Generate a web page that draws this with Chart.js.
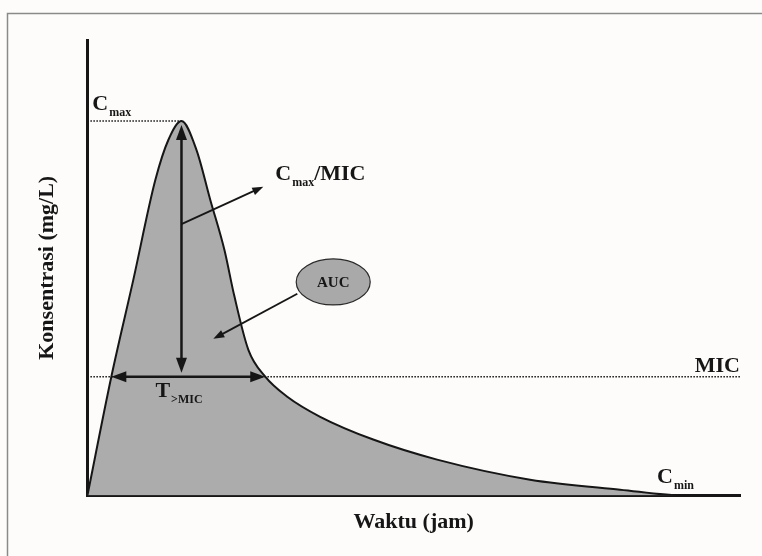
<!DOCTYPE html>
<html>
<head>
<meta charset="utf-8">
<script src="https://cdn.jsdelivr.net/npm/chart.js@4.4.1/dist/chart.umd.min.js"></script>
<style>
html, body { margin: 0; padding: 0; background: #fdfcfa; }
#wrap { width: 762px; height: 556px; position: relative; }
</style>
</head>
<body>
<div id="wrap"><canvas id="pkChart"></canvas></div>
<script>
// Time (jam) and concentration (arbitrary units)
const timeValues = [0, 0.88, 1.69, 2.50, 2.98, 3.46, 4.01, 4.52, 5.04, 5.40, 5.92, 6.54, 7.35, 8.56, 10.51, 12.86, 16.28, 19.59, 22.0, 24];
const concValues = [0, 26.1, 47.4, 69.3, 78.1, 82.2, 75.9, 64.9, 53.9, 43.9, 32.0, 26.1, 21.7, 17.3, 12.3, 7.9, 3.5, 1.3, 0, 0];

const cmaxTime = 3.46;
const cmaxValue = 82.2;
const micValue = 26.1;
const micStartTime = 0.88;
const micEndTime = 6.54;

// pointer arrows: [fromTime, fromConc, toTime, toConc]
const ratioArrow = [3.46, 59.6, 6.47, 67.8];
const aucArrow = [7.72, 44.3, 4.63, 34.4];
const aucBubble = [9.04, 46.9];

// label anchors: [text, sub, rest, time, conc, align]
const labelList = [
	['C', 'max', '', 0.18, 84.6, 'left'],
	['C', 'max', '/MIC', 6.91, 69.3, 'left'],
	['MIC', '', '', 24, 27.2, 'right'],
	['T', '>MIC', '', 2.50, 21.7, 'left'],
	['C', 'min', '', 20.95, 2.85, 'left'],
];

const ink = '#161616';
const fillGray = '#acacac';
const serif = "'Liberation Serif', 'Times New Roman', serif";

const points = timeValues.map(function(t, i) {
	return { x: t, y: concValues[i] };
});

function arrowHead(ctx, x1, y1, x2, y2, len, wid) {
	const a = Math.atan2(y2 - y1, x2 - x1);
	ctx.beginPath();
	ctx.moveTo(x2, y2);
	ctx.lineTo(x2 - len * Math.cos(a) + wid / 2 * Math.sin(a), y2 - len * Math.sin(a) - wid / 2 * Math.cos(a));
	ctx.lineTo(x2 - len * Math.cos(a) - wid / 2 * Math.sin(a), y2 - len * Math.sin(a) + wid / 2 * Math.cos(a));
	ctx.closePath();
	ctx.fill();
}

function arrow(ctx, x1, y1, x2, y2, both, len, wid) {
	const a = Math.atan2(y2 - y1, x2 - x1);
	let sx = x1, sy = y1;
	if(both) {
		sx = x1 + (len - 2) * Math.cos(a);
		sy = y1 + (len - 2) * Math.sin(a);
	}
	ctx.beginPath();
	ctx.moveTo(sx, sy);
	ctx.lineTo(x2 - (len - 2) * Math.cos(a), y2 - (len - 2) * Math.sin(a));
	ctx.stroke();
	arrowHead(ctx, x1, y1, x2, y2, len, wid);
	if(both) {
		arrowHead(ctx, x2, y2, x1, y1, len, wid);
	}
}

function subLabel(ctx, main, sub, rest, x, y, align) {
	const big = 'bold 22px ' + serif;
	const small = 'bold 12px ' + serif;
	ctx.font = big;
	let w = ctx.measureText(main).width;
	ctx.font = small;
	const ws = ctx.measureText(sub).width;
	ctx.font = big;
	const wr = ctx.measureText(rest).width;
	let left = x;
	if(align === 'right') {
		left = x - (w + ws + wr);
	}
	ctx.textAlign = 'left';
	ctx.textBaseline = 'alphabetic';
	ctx.font = big;
	ctx.fillText(main, left, y);
	ctx.font = small;
	ctx.fillText(sub, left + w + 1, y + 6);
	ctx.font = big;
	ctx.fillText(rest, left + w + ws + 1, y);
}

const framePlugin = {
	id: 'frame',
	beforeDraw(chart) {
		const ctx = chart.ctx;
		ctx.save();
		ctx.fillStyle = '#fdfcfa';
		ctx.fillRect(0, 0, chart.width, chart.height);
		ctx.strokeStyle = '#8a8a8a';
		ctx.lineWidth = 1.5;
		ctx.beginPath();
		ctx.moveTo(7.5, chart.height);
		ctx.lineTo(7.5, 13.5);
		ctx.lineTo(chart.width, 13.5);
		ctx.stroke();
		ctx.restore();
	}
};

const notePlugin = {
	id: 'notes',
	afterDraw(chart) {
		const ctx = chart.ctx;
		const xs = chart.scales.x;
		const ys = chart.scales.y;
		const px = function(v) { return xs.getPixelForValue(v); };
		const py = function(v) { return ys.getPixelForValue(v); };
		ctx.save();

		// dotted reference lines
		ctx.strokeStyle = ink;
		ctx.lineWidth = 1.5;
		ctx.setLineDash([1.5, 1.5]);
		ctx.beginPath();
		ctx.moveTo(px(0), py(cmaxValue));
		ctx.lineTo(px(cmaxTime), py(cmaxValue));
		ctx.moveTo(px(0), py(micValue));
		ctx.lineTo(px(24), py(micValue));
		ctx.stroke();
		ctx.setLineDash([]);

		// double arrows
		ctx.fillStyle = ink;
		ctx.lineWidth = 2.5;
		arrow(ctx, px(cmaxTime), py(micValue) - 4, px(cmaxTime), py(cmaxValue) + 4, true, 15, 11);
		arrow(ctx, px(micStartTime), py(micValue), px(micEndTime), py(micValue), true, 15, 11);

		// pointer arrows
		ctx.lineWidth = 1.8;
		arrow(ctx, px(ratioArrow[0]), py(ratioArrow[1]), px(ratioArrow[2]), py(ratioArrow[3]), false, 11, 8);
		arrow(ctx, px(aucArrow[0]), py(aucArrow[1]), px(aucArrow[2]), py(aucArrow[3]), false, 11, 8);

		// AUC bubble
		ctx.beginPath();
		ctx.ellipse(px(aucBubble[0]), py(aucBubble[1]), 37, 23, 0, 0, Math.PI * 2);
		ctx.fillStyle = '#a9a9a9';
		ctx.fill();
		ctx.lineWidth = 1.2;
		ctx.strokeStyle = '#2a2a2a';
		ctx.stroke();
		ctx.fillStyle = ink;
		ctx.font = 'bold 15px ' + serif;
		ctx.textAlign = 'center';
		ctx.textBaseline = 'middle';
		ctx.fillText('AUC', px(aucBubble[0]), py(aucBubble[1]) + 1);

		// text labels
		for(let i = 0; i < labelList.length; i++) {
			const l = labelList[i];
			subLabel(ctx, l[0], l[1], l[2], px(l[3]), py(l[4]), l[5]);
		}
		ctx.restore();
	}
};

const config = {
	type: 'line',
	data: {
		datasets: [
			{
				data: points,
				borderColor: ink,
				borderWidth: 2,
				backgroundColor: fillGray,
				fill: 'origin',
				pointRadius: 0,
				cubicInterpolationMode: 'monotone',
			}
		],
	},
	options: {
		responsive: true,
		maintainAspectRatio: false,
		animation: false,
		layout: {
			padding: { left: 0, right: 22, top: 40, bottom: 0 },
		},
		plugins: {
			legend: { display: false },
			tooltip: { enabled: false },
		},
		scales: {
			x: {
				type: 'linear',
				min: 0,
				max: 24,
				z: 1,
				grid: { display: false, drawTicks: false },
				ticks: { display: false },
				border: { display: true, color: ink, width: 3 },
				title: {
					display: true,
					text: 'Waktu (jam)',
					color: ink,
					font: { family: serif, size: 22, weight: 'bold' },
					padding: { top: 14, bottom: 20 },
				},
			},
			y: {
				type: 'linear',
				min: 0,
				max: 100,
				z: 1,
				grid: { display: false, drawTicks: false },
				ticks: { display: false },
				border: { display: true, color: ink, width: 3 },
				title: {
					display: true,
					text: 'Konsentrasi (mg/L)',
					color: ink,
					font: { family: serif, size: 22, weight: 'bold' },
					padding: { top: 34, bottom: 27 },
				},
			},
		},
	},
	plugins: [framePlugin, notePlugin],
};

const pkChart = new Chart(document.getElementById('pkChart').getContext('2d'), config);
</script>
</body>
</html>
